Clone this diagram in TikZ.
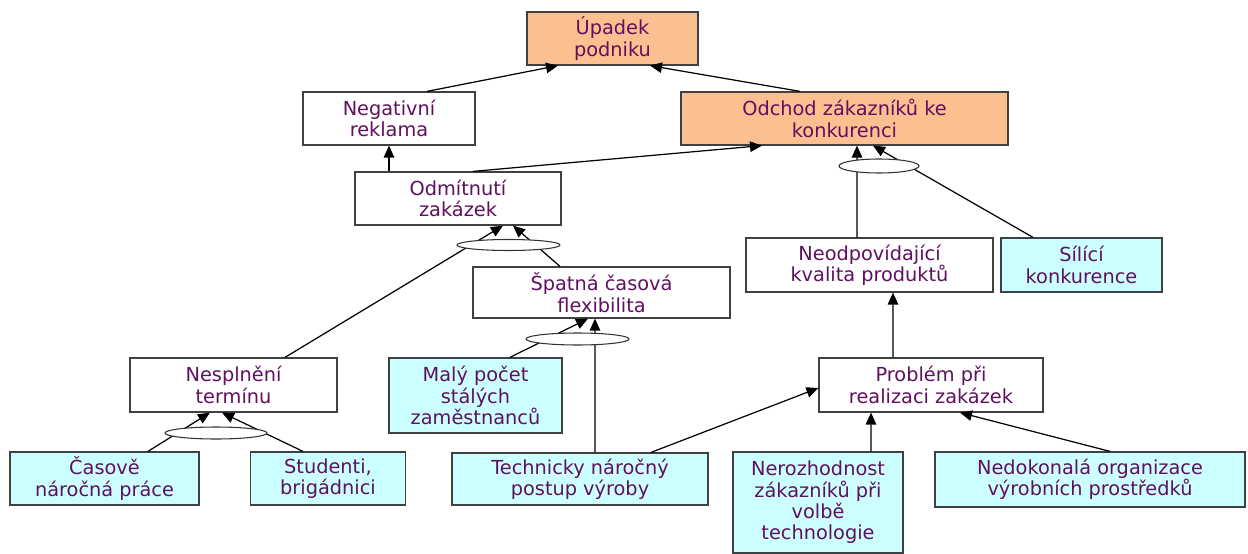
\documentclass[tikz,border=0pt]{standalone}
\usepackage{fontspec}
\setmainfont{DejaVu Sans}
\usetikzlibrary{arrows.meta,shapes.geometric}
\definecolor{rootfill}{RGB}{250,192,144}
\definecolor{leaffill}{RGB}{204,255,255}
\definecolor{textpurple}{RGB}{96,16,96}
\tikzstyle{plain}=[rectangle, draw=black!75, line width=.7pt, fill=white, text=textpurple, align=center, inner sep=0pt, font=\fontsize{11}{12.2}\selectfont]
\tikzstyle{root} = [plain, fill=rootfill]
\tikzstyle{leaf} = [plain, fill=leaffill]
\tikzstyle{joint} = [ellipse, draw=black!80, line width=.6pt, fill=white, inner sep=0pt]
\tikzstyle{arrow} = [draw, line width=.7pt, -{Triangle[length=2.4mm,width=2.1mm]}, black]

\begin{document}
\begin{tikzpicture}[x=0.02cm, y=-0.02cm]
	\useasboundingbox (0,0) rectangle (1248,554);
	\fill[white] (0,0) rectangle (1248,554);

	% top of the tree
	\node[root, minimum width=3.42cm, minimum height=1.06cm] (upadek) at (612.5,38.5) {Úpadek\\podniku};
	\node[plain, minimum width=3.44cm, minimum height=1.06cm] (negativni) at (389,118.5) {Negativní\\reklama};
	\node[root, minimum width=6.54cm, minimum height=1.06cm] (odchod) at (844.5,118.5) {Odchod zákazníků ke\\konkurenci};
	\node[plain, minimum width=4.12cm, minimum height=1.06cm] (odmitnuti) at (458,198.5) {Odmítnutí\\zakázek};

	% middle level
	\node[plain, minimum width=5.14cm, minimum height=1.02cm] (spatna) at (601.5,292.5) {Špatná časová\\flexibilita};
	\node[plain, minimum width=4.94cm, minimum height=1.08cm] (neodpov) at (869.5,265) {Neodpovídající\\kvalita produktů};
	\node[leaf, minimum width=3.22cm, minimum height=1.08cm] (silici) at (1081.5,265) {Sílící\\konkurence};
	\node[plain, minimum width=4.14cm, minimum height=1.08cm] (nesplneni) at (233.5,385) {Nesplnění\\termínu};
	\node[leaf, minimum width=3.46cm, minimum height=1.5cm] (maly) at (475.5,395.5) {Malý počet\\stálých\\zaměstnanců};
	\node[plain, minimum width=4.48cm, minimum height=1.08cm] (problem) at (931,385) {Problém při\\realizaci zakázek};

	% bottom row
	\node[leaf, minimum width=3.78cm, minimum height=1.06cm] (casove) at (104.5,478.5) {Časově\\náročná práce};
	\node[leaf, minimum width=3.1cm, minimum height=1.06cm] (studenti) at (328,478.5) {Studenti,\\brigádnici};
	\node[leaf, minimum width=5.12cm, minimum height=1.04cm] (technicky) at (580,479) {Technicky náročný\\postup výroby};
	\node[leaf, minimum width=3.4cm, minimum height=2.02cm] (nerozhodnost) at (818,502.5) {Nerozhodnost\\zákazníků při\\volbě\\technologie};
	\node[leaf, minimum width=6.2cm, minimum height=1.1cm] (nedokonala) at (1090,479.5) {Nedokonalá organizace\\výrobních prostředků};

	\draw[arrow] ([xshift=.76cm]negativni.north) -- ([xshift=-1.09cm]upadek.south);
	\draw[arrow] ([xshift=-.89cm]odchod.north) -- ([xshift=.75cm]upadek.south);
	\draw[arrow] (odmitnuti.north -| negativni.south) -- (negativni.south);
	\draw[arrow] ([xshift=.3cm]odmitnuti.north) -- ([xshift=-1.65cm]odchod.south);

	\draw[arrow] ([xshift=1.03cm]nesplneni.north) -- ([xshift=.9cm]odmitnuti.south);
	\draw[arrow] ([xshift=-.83cm]spatna.north) -- ([xshift=1.1cm]odmitnuti.south);
	\draw[arrow] ([xshift=-.25cm]neodpov.north) -- ([xshift=.25cm]odchod.south);
	\draw[arrow] ([xshift=-.97cm]silici.north) -- ([xshift=.57cm]odchod.south);
	\draw[arrow] ([xshift=.87cm]casove.north) -- ([xshift=-.47cm]nesplneni.south);
	\draw[arrow] ([xshift=-.5cm]studenti.north) -- ([xshift=-.23cm]nesplneni.south);
	\draw[arrow] ([xshift=.69cm]maly.north) -- ([xshift=-.27cm]spatna.south);
	\draw[arrow] ([xshift=.3cm]technicky.north) -- ([xshift=-.13cm]spatna.south);

	\draw[arrow] ([xshift=1.42cm]technicky.north) -- ([yshift=-.06cm]problem.west);
	\draw[arrow] ([xshift=1.06cm]nerozhodnost.north) -- ([xshift=-1.2cm]problem.south);
	\draw[arrow] ([xshift=.4cm]nedokonala.north) -- ([xshift=.58cm]problem.south);
	\draw[arrow] ([xshift=-.76cm]problem.north) -- ([xshift=.47cm]neodpov.south);

	% and-joints over the lines
	\node[joint, minimum width=2.06cm, minimum height=.22cm] (jodm) at (508.5,245) {};
	\node[joint, minimum width=1.6cm, minimum height=.28cm] (jodch) at (879,166) {};
	\node[joint, minimum width=2.04cm, minimum height=.24cm] (jnes) at (216,433) {};
	\node[joint, minimum width=2.06cm, minimum height=.24cm] (jspat) at (577.5,339) {};
\end{tikzpicture}
\end{document}
